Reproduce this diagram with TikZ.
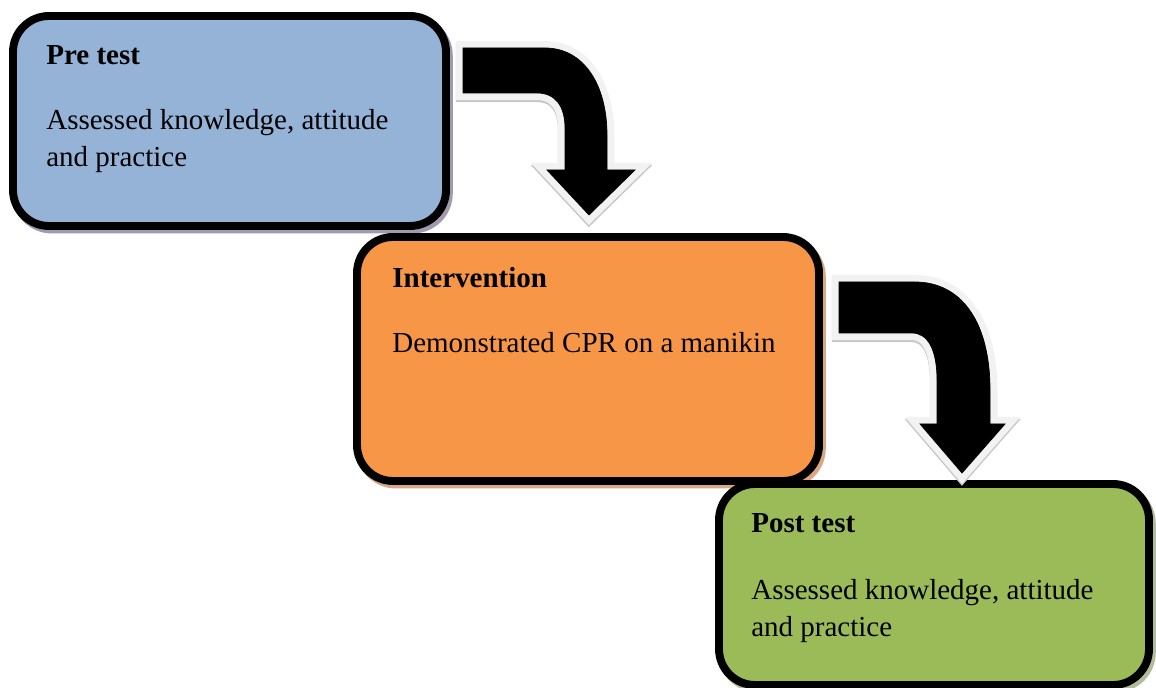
\documentclass[tikz,border=0pt]{standalone}
\usepackage{fontspec}
\setmainfont{Liberation Serif}
\usetikzlibrary{fit, positioning, shadows}
\definecolor{preblue}{HTML}{95B3D7}
\definecolor{preshade}{HTML}{A29BAE}
\definecolor{interorange}{HTML}{F79646}
\definecolor{intershade}{HTML}{D8A784}
\definecolor{postgreen}{HTML}{9BBB59}
\definecolor{postshade}{HTML}{B2BC9C}
\definecolor{arrowrim}{HTML}{F2F2F2}

\begin{document}
\begin{tikzpicture}[x=0.02cm, y=-0.02cm,
    stage/.style={draw=black, line width=4.5pt, rounded corners=0.72cm, inner sep=0pt},
    stageshade/.style={drop shadow={shadow xshift=1.6pt, shadow yshift=-2pt, opacity=1, fill=#1, draw=#1, line width=4.5pt}},
    stagetitle/.style={anchor=base west, inner sep=0pt, font=\fontsize{16.5}{21.5}\selectfont\bfseries},
    stagetext/.style={anchor=base west, inner sep=0pt, align=left, font=\fontsize{16.5}{21.5}\selectfont},
    blockarrow/.style={fill=black, line join=miter,
        preaction={draw=gray!45, line width=8pt, line join=miter, transform canvas={yshift=-1.2pt}},
        preaction={draw=arrowrim, line width=8pt, line join=miter}}]
    \useasboundingbox (0,0) rectangle (1156,688);

    \node[stage, stageshade=preshade, fill=preblue, fit={(13,16) (446,226)}] (pre) {};
    \node[stage, stageshade=intershade, fill=interorange, fit={(357,237) (819,481)}] (inter) {};
    \node[stage, stageshade=postshade, fill=postgreen, fit={(719,484) (1149,685)}] (post) {};

    % two-line texts sit on the baseline of their last line
    \node[stagetitle] (pretitle) at (46,65) {Pre test};
    \node[stagetext] (pretext) at (46,167) {Assessed knowledge, attitude\\and practice};
    \node[stagetitle] (intertitle) at (392,288) {Intervention};
    \node[stagetext] (intertext) at (392,353) {Demonstrated CPR on a manikin};
    \node[stagetitle] (posttitle) at (751,533) {Post test};
    \node[stagetext] (posttext) at (751,637) {Assessed knowledge, attitude\\and practice};

    % bent arrows between the stages
    \draw[blockarrow] (463,48) -- (545,48) .. controls (584,48) and (607,85) .. (607,135)
        -- (607,170) -- (635,170) -- (589,215) -- (547,170) -- (565,170) -- (565,128)
        .. controls (565,107) and (556,93) .. (537,93) -- (463,93) -- cycle;
    \draw[blockarrow] (839,282) -- (915,282) .. controls (960,282) and (990,320) .. (990,390)
        -- (990,424) -- (1005,424) -- (962,473) -- (920,424) -- (937,424) -- (937,380)
        .. controls (937,350) and (928,333) .. (912,333) -- (839,333) -- cycle;
\end{tikzpicture}
\end{document}
